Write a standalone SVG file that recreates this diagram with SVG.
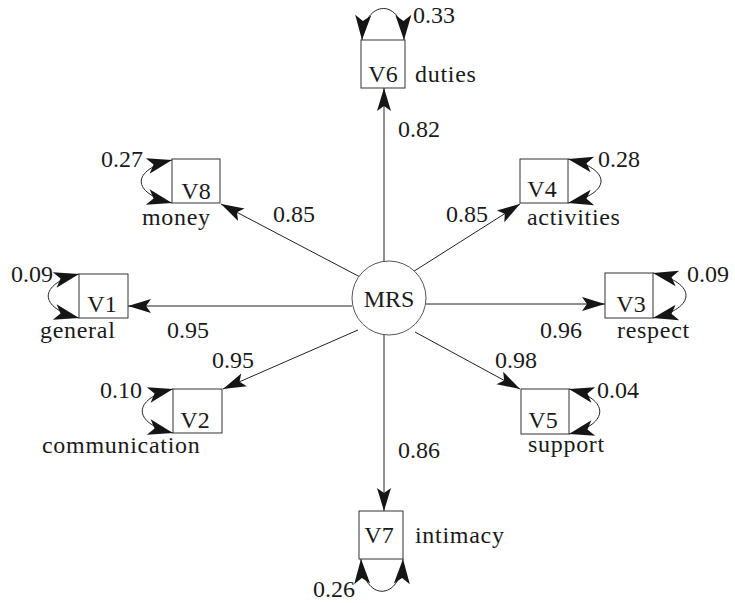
<svg xmlns="http://www.w3.org/2000/svg" width="735" height="603" viewBox="0 0 735 603">
<style>
text{font-family:"Liberation Serif","DejaVu Serif",serif;font-size:24px;fill:#1a1a1a}
.w{letter-spacing:0.7px}
.box{fill:#fff;stroke:#333;stroke-width:1}
.c{text-anchor:middle}
.e{text-anchor:end}
.ln{fill:none;stroke:#222;stroke-width:1;marker-end:url(#ah)}
.lp{fill:none;stroke:#222;stroke-width:1;marker-start:url(#ahl);marker-end:url(#ahl)}
</style>
<defs>
<marker id="ah" markerUnits="userSpaceOnUse" viewBox="-26 -9 28 18" refX="0" refY="0" markerWidth="28" markerHeight="18" orient="auto-start-reverse">
<path d="M0,0 L-23,-7 L-18,0 L-23,7 Z" fill="#151515"/>
</marker>
<marker id="ahl" markerUnits="userSpaceOnUse" viewBox="-28 -10 30 20" refX="0" refY="0" markerWidth="30" markerHeight="20" orient="auto-start-reverse">
<path d="M0,0 L-25,-8 L-19,0 L-25,8 Z" fill="#151515"/>
</marker>
</defs>
<rect width="735" height="603" fill="#fff"/>
<g id="connectors">
<line class="ln" x1="384" y1="262" x2="384" y2="88"/>
<line class="ln" x1="384" y1="335" x2="384" y2="511"/>
<line class="ln" x1="352" y1="306" x2="128" y2="306"/>
<line class="ln" x1="426" y1="304" x2="605" y2="304"/>
<line class="ln" x1="362" y1="278" x2="221" y2="204"/>
<line class="ln" x1="408" y1="275" x2="520" y2="204"/>
<line class="ln" x1="358" y1="330" x2="223" y2="389"/>
<line class="ln" x1="415" y1="332" x2="520" y2="389"/>
<path class="lp" d="M362,40 C364,-2 403,-2 404,40"/>
<path class="lp" d="M172,160 C131,170 131,193 172,203"/>
<path class="lp" d="M79,274 C38,284 38,308 79,318"/>
<path class="lp" d="M173,389 C132,399 132,423 173,433"/>
<path class="lp" d="M568,159 C612,169 612,193 568,203"/>
<path class="lp" d="M653,273 C697,283 697,308 653,318"/>
<path class="lp" d="M569,389 C610,399 610,424 569,434"/>
<path class="lp" d="M361,559 C363,602 401,602 403,559"/>
<text x="398" y="137">0.82</text>
<text x="273" y="222">0.85</text>
<text x="446" y="222">0.85</text>
<text x="167" y="338">0.95</text>
<text x="540" y="338">0.96</text>
<text x="212" y="368">0.95</text>
<text x="495" y="368">0.98</text>
<text x="398" y="458">0.86</text>
<text x="413" y="23">0.33</text>
<text class="e" x="143" y="167">0.27</text>
<text class="e" x="53" y="282">0.09</text>
<text class="e" x="142" y="398">0.10</text>
<text x="598" y="167">0.28</text>
<text x="687" y="282">0.09</text>
<text x="597" y="398">0.04</text>
<text class="e" x="355" y="597">0.26</text>
</g>
<g id="MRS">
<circle cx="389" cy="298" r="37" fill="#fff" stroke="#555" stroke-width="1"/>
<text class="c" x="389" y="307">MRS</text>
</g>
<g id="V6">
<rect class="box" x="361" y="40" width="44" height="48"/>
<text class="c" x="383" y="82">V6</text>
<text class="w" x="415" y="82">duties</text>
</g>
<g id="V8">
<rect class="box" x="172" y="159" width="48" height="44"/>
<text class="c" x="196" y="199">V8</text>
<text class="w" x="142" y="225">money</text>
</g>
<g id="V1">
<rect class="box" x="79" y="274" width="49" height="44"/>
<text class="c" x="102" y="312">V1</text>
<text class="w" x="40" y="338">general</text>
</g>
<g id="V2">
<rect class="box" x="173" y="389" width="49" height="44"/>
<text class="c" x="195" y="428">V2</text>
<text class="w" x="42" y="453">communication</text>
</g>
<g id="V4">
<rect class="box" x="520" y="159" width="48" height="44"/>
<text class="c" x="542" y="197">V4</text>
<text class="w" x="527" y="225">activities</text>
</g>
<g id="V3">
<rect class="box" x="605" y="273" width="48" height="45"/>
<text class="c" x="631" y="312">V3</text>
<text class="w" x="617" y="338">respect</text>
</g>
<g id="V5">
<rect class="box" x="521" y="389" width="48" height="45"/>
<text class="c" x="543" y="428">V5</text>
<text class="w" x="528" y="452">support</text>
</g>
<g id="V7">
<rect class="box" x="359" y="511" width="44" height="48"/>
<text class="c" x="379" y="543">V7</text>
<text class="w" x="415" y="543">intimacy</text>
</g>
</svg>
